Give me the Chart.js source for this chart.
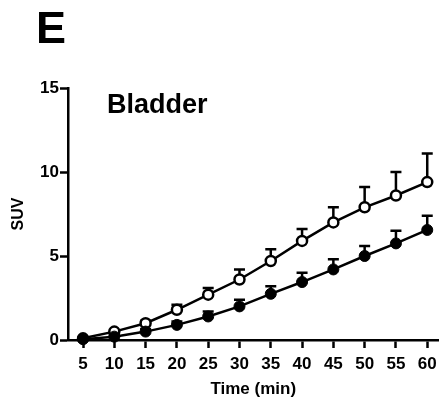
<!DOCTYPE html>
<html>
<head>
<meta charset="utf-8">
<script src="https://cdn.jsdelivr.net/npm/chart.js@4/dist/chart.umd.min.js"></script>
<style>
  html, body { margin: 0; padding: 0; background: #fff; }
  #wrap { position: relative; width: 446px; height: 401px; }
</style>
</head>
<body>
<div id="wrap"><canvas id="c" width="446" height="401"></canvas></div>
<script>
const times = [5, 10, 15, 20, 25, 30, 35, 40, 45, 50, 55, 60];
const openMean = [0.1, 0.5, 1.0, 1.8, 2.7, 3.6, 4.7, 5.9, 7.0, 7.9, 8.6, 9.4];
const openErr = [0.05, 0.1, 0.15, 0.3, 0.4, 0.6, 0.7, 0.7, 0.9, 1.2, 1.4, 1.7];
const filledMean = [0.05, 0.2, 0.5, 0.9, 1.4, 2.0, 2.75, 3.45, 4.2, 5.0, 5.75, 6.55];
const filledErr = [0.05, 0.1, 0.15, 0.2, 0.3, 0.4, 0.45, 0.55, 0.6, 0.6, 0.75, 0.85];
const yTicks = [0, 5, 10, 15];
const xTicks = [5, 10, 15, 20, 25, 30, 35, 40, 45, 50, 55, 60];
const panelLabel = 'E';
const panelTitle = 'Bladder';
const xTitle = 'Time (min)';
const yTitle = 'SUV';

const FONT = "'Liberation Sans', Arial, Helvetica, sans-serif";

const errorBars = {
  id: 'errorBars',
  beforeDatasetsDraw(chart) {
    const ctx = chart.ctx;
    const xs = chart.scales.x, ys = chart.scales.y;
    const sets = [[filledMean, filledErr], [openMean, openErr]];
    ctx.save();
    ctx.strokeStyle = '#000';
    ctx.lineWidth = 2.5;
    sets.forEach(([m, e]) => {
      times.forEach((t, i) => {
        const x = xs.getPixelForValue(t);
        const y0 = ys.getPixelForValue(m[i]);
        const y1 = ys.getPixelForValue(m[i] + e[i]);
        ctx.beginPath();
        ctx.moveTo(x, y0);
        ctx.lineTo(x, y1);
        ctx.moveTo(x - 5.5, y1);
        ctx.lineTo(x + 5.5, y1);
        ctx.stroke();
      });
    });
    ctx.restore();
  }
};

const labels = {
  id: 'labels',
  afterDraw(chart) {
    const ctx = chart.ctx;
    ctx.save();
    ctx.fillStyle = '#000';
    ctx.textBaseline = 'alphabetic';
    ctx.textAlign = 'left';
    ctx.font = 'bold 45px ' + FONT;
    ctx.fillText(panelLabel, 36, 43);
    ctx.font = 'bold 27px ' + FONT;
    ctx.fillText(panelTitle, 107, 113);
    ctx.restore();
  }
};

new Chart(document.getElementById('c'), {
  type: 'line',
  data: {
    datasets: [
      {
        label: 'filled',
        data: times.map((t, i) => ({ x: t, y: filledMean[i] })),
        borderColor: '#000',
        borderWidth: 2.5,
        backgroundColor: '#000',
        pointBackgroundColor: '#000',
        pointBorderColor: '#000',
        pointBorderWidth: 1,
        pointRadius: 5.5,
        tension: 0,
        clip: false
      },
      {
        label: 'open',
        data: times.map((t, i) => ({ x: t, y: openMean[i] })),
        borderColor: '#000',
        borderWidth: 2.5,
        backgroundColor: '#fff',
        pointBackgroundColor: '#fff',
        pointBorderColor: '#000',
        pointBorderWidth: 2.5,
        pointRadius: 5,
        tension: 0,
        clip: false
      }
    ]
  },
  options: {
    responsive: false,
    animation: false,
    layout: { padding: { top: 88, right: 6, left: 0, bottom: 0 } },
    plugins: { legend: { display: false }, tooltip: { enabled: false } },
    scales: {
      x: {
        type: 'linear',
        min: 2.6,
        max: 61.8,
        afterBuildTicks(scale) { scale.ticks = xTicks.map(v => ({ value: v })); },
        afterFit(scale) { scale.height = 61; },
        border: { display: true, color: '#000', width: 2.5 },
        grid: { display: true, drawOnChartArea: false, drawTicks: true, tickLength: 8, tickWidth: 2.5, tickColor: '#000' },
        ticks: { color: '#000', font: { family: FONT, size: 17, weight: 'bold' }, padding: 6, maxRotation: 0, autoSkip: false },
        title: { display: true, text: xTitle, color: '#000', font: { family: FONT, size: 17, weight: 'bold' }, padding: { top: 0, bottom: 1 } }
      },
      y: {
        type: 'linear',
        min: 0,
        max: 15,
        afterBuildTicks(scale) { scale.ticks = yTicks.map(v => ({ value: v })); },
        afterFit(scale) { scale.width = 68; },
        border: { display: true, color: '#000', width: 2.5 },
        grid: { display: true, drawOnChartArea: false, drawTicks: true, tickLength: 8, tickWidth: 2.5, tickColor: '#000' },
        ticks: { color: '#000', font: { family: FONT, size: 17, weight: 'bold' }, padding: 1 },
        title: { display: true, text: yTitle, color: '#000', font: { family: FONT, size: 16, weight: 'bold' }, padding: { top: 9, bottom: 0 } }
      }
    }
  },
  plugins: [errorBars, labels]
});
</script>
</body>
</html>
